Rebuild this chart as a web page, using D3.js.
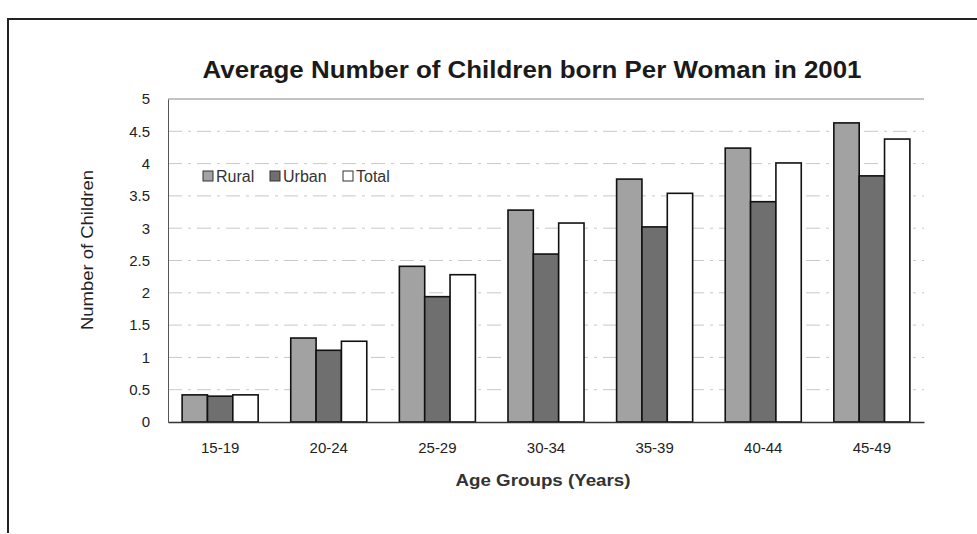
<!DOCTYPE html>
<html>
<head>
<meta charset="utf-8">
<script src="https://cdn.jsdelivr.net/npm/d3@7"></script>
<style>
  html, body { margin: 0; padding: 0; background: #fff; }
  svg { display: block; font-family: "Liberation Sans", Arial, Helvetica, sans-serif; }
</style>
</head>
<body>
<svg id="chart" width="977" height="534"></svg>
<script>
// Average number of children born per woman, 2001, by age group
const ageGroups = ["15-19", "20-24", "25-29", "30-34", "35-39", "40-44", "45-49"];
const rural = [0.42, 1.3, 2.41, 3.28, 3.76, 4.24, 4.63];
const urban = [0.4, 1.11, 1.94, 2.6, 3.02, 3.41, 3.81];
const total = [0.42, 1.25, 2.28, 3.08, 3.54, 4.01, 4.38];
const seriesNames = ["Rural", "Urban", "Total"];
const yTicks = [0, 0.5, 1, 1.5, 2, 2.5, 3, 3.5, 4, 4.5, 5];

const seriesValues = [rural, urban, total];
const fills = ["#a2a2a2", "#6f6f6f", "#ffffff"];

const svg = d3.select("#chart");

// outer frame
svg.append("path")
  .attr("d", "M8,533 L8,19 L977,19")
  .attr("fill", "none").attr("stroke", "#222").attr("stroke-width", 2);

const plot = { left: 168, right: 924, top: 99, bottom: 422 };

const x = d3.scaleBand().domain(ageGroups)
  .range([plot.left, plot.right]).paddingInner(0.3).paddingOuter(0.13);
const xs = d3.scaleBand().domain(seriesNames).range([0, x.bandwidth()]);
const y = d3.scaleLinear().domain([0, 5]).range([plot.bottom, plot.top]);

// gridlines
svg.append("g").selectAll("line").data(yTicks.filter(t => t > 0)).join("line")
  .attr("x1", plot.left).attr("x2", plot.right)
  .attr("y1", d => y(d)).attr("y2", d => y(d))
  .attr("stroke", d => d === 5 ? "#888" : "#c8c8c8")
  .attr("stroke-width", 1)
  .attr("stroke-dasharray", d => d === 5 ? null : "14,6,3,6");

// y axis
const yAxis = svg.append("g").attr("transform", `translate(${plot.left},0)`)
  .call(d3.axisLeft(y).tickValues(yTicks).tickSize(0).tickPadding(18)
    .tickFormat(d => String(d)));
yAxis.select(".domain").attr("stroke", "#555");
yAxis.selectAll("text").attr("font-size", 15).attr("fill", "#222");

// bars
const groups = svg.append("g").selectAll("g").data(ageGroups).join("g")
  .attr("transform", d => `translate(${x(d)},0)`);
groups.selectAll("rect")
  .data((d, i) => seriesNames.map((s, k) => ({ s, k, v: seriesValues[k][i] })))
  .join("rect")
  .attr("x", d => xs(d.s))
  .attr("width", xs.bandwidth())
  .attr("y", d => y(d.v))
  .attr("height", d => y(0) - y(d.v))
  .attr("fill", d => fills[d.k])
  .attr("stroke", "#111")
  .attr("stroke-width", 1.6);

// x axis
const xAxis = svg.append("g").attr("transform", `translate(0,${plot.bottom})`)
  .call(d3.axisBottom(x).tickSize(0).tickPadding(20));
xAxis.select(".domain").attr("stroke", "#333").attr("stroke-width", 1.5);
xAxis.selectAll("text").attr("font-size", 15).attr("fill", "#222");

// title
svg.append("text").attr("x", 532).attr("y", 78).attr("text-anchor", "middle")
  .attr("font-size", 23).attr("font-weight", "bold").attr("fill", "#1a1a1a")
  .attr("textLength", 659).attr("lengthAdjust", "spacingAndGlyphs")
  .text("Average Number of Children born Per Woman in 2001");

// axis titles
svg.append("text").attr("x", 543).attr("y", 486).attr("text-anchor", "middle")
  .attr("font-size", 16).attr("font-weight", "bold").attr("fill", "#333")
  .attr("textLength", 175).attr("lengthAdjust", "spacingAndGlyphs")
  .text("Age Groups (Years)");
svg.append("text").attr("transform", "translate(93,250) rotate(-90)")
  .attr("text-anchor", "middle").attr("font-size", 16).attr("fill", "#222")
  .attr("textLength", 160).attr("lengthAdjust", "spacingAndGlyphs")
  .text("Number of Children");

// legend
const legendX = [203, 270, 343];
const legend = svg.append("g").selectAll("g").data(seriesNames).join("g")
  .attr("transform", (d, i) => `translate(${legendX[i]},171)`);
legend.append("rect").attr("width", 10).attr("height", 10)
  .attr("fill", (d, i) => fills[i]).attr("stroke", "#333").attr("stroke-width", 1);
legend.append("text").attr("x", 13).attr("y", 11)
  .attr("font-size", 16).attr("fill", "#333").text(d => d);
</script>
</body>
</html>
